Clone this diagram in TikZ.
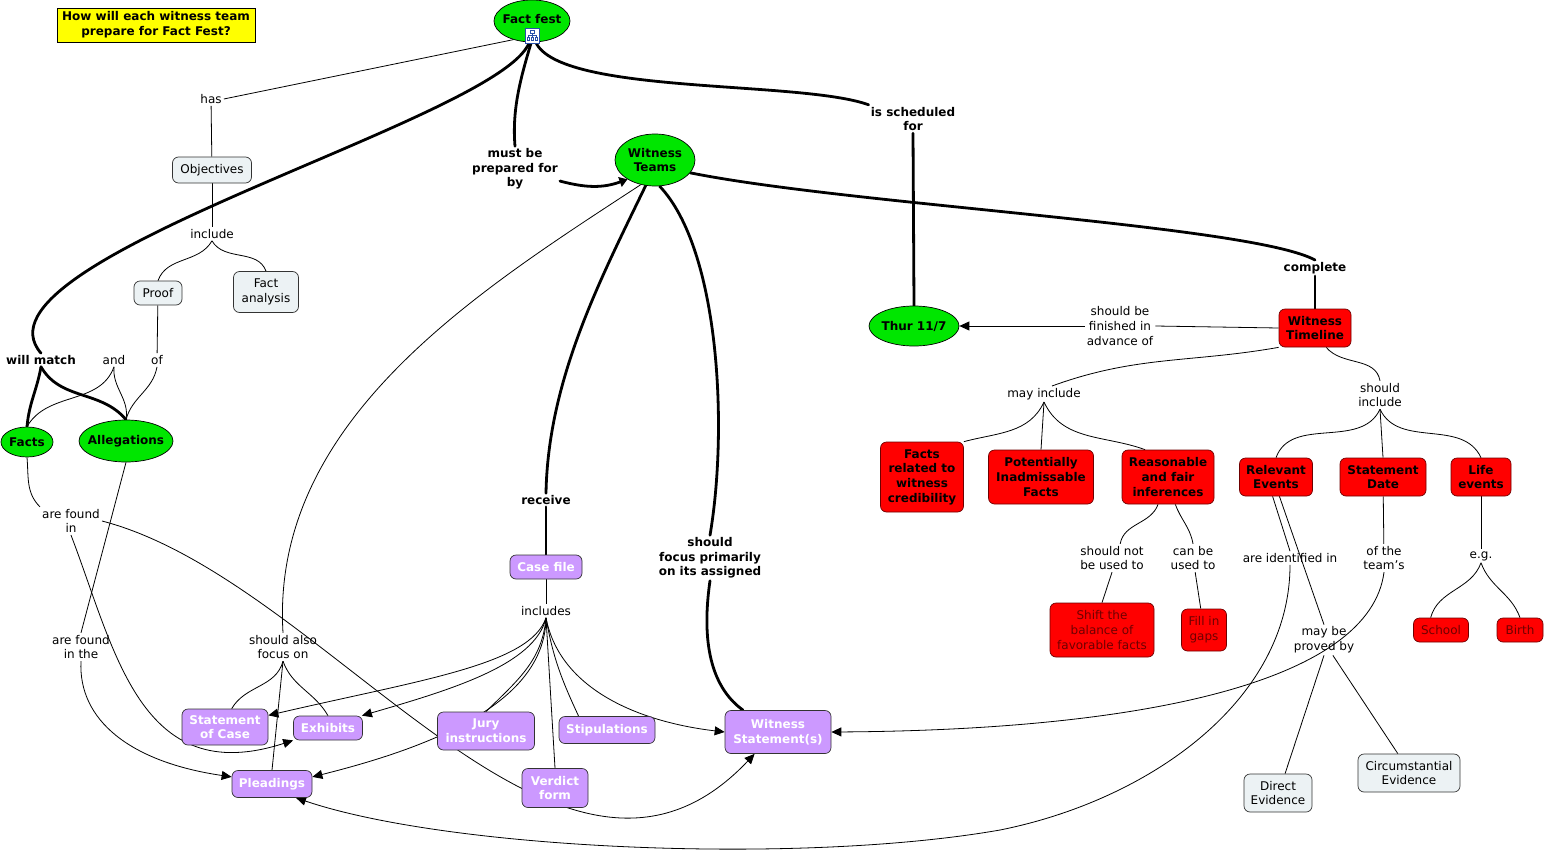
\documentclass[tikz,border=0pt]{standalone}
\usepackage{fontspec}
\setmainfont{DejaVu Sans}
\usepackage{xcolor}
\usepackage{tikz}
\usetikzlibrary{shapes}
\usetikzlibrary{positioning}
\usetikzlibrary{arrows.meta}
\definecolor{mapgreen}{RGB}{0,230,0}
\definecolor{mapred}{RGB}{255,0,0}
\definecolor{mapdarkred}{RGB}{110,0,0}
\definecolor{mappurple}{RGB}{204,153,255}
\definecolor{mapgrey}{RGB}{236,242,244}
\definecolor{mapyellow}{RGB}{255,255,0}
\definecolor{mapblue}{RGB}{40,80,170}
\pgfdeclarelayer{bg}
\pgfsetlayers{bg,main}
\newcommand{\mapfont}{\fontsize{12}{14.7}\selectfont}

\begin{document}
\begin{tikzpicture}[x=1pt,y=-1pt,
  link/.style={line width=0.8pt},
  mainlink/.style={line width=2.8pt,line cap=round},
  arr/.style={-{Triangle[length=10pt,width=9pt]}},
  bigarr/.style={-{Triangle[length=8pt,width=10pt]}}]
\tikzset{
    event/.style     = {ellipse, draw=black, line width=0.7pt, fill=mapgreen, font=\mapfont\bfseries, align=center, inner xsep=-5pt, inner ysep=0pt},
    redbox/.style    = {rectangle, rounded corners=6pt, draw=mapdarkred, line width=0.7pt, fill=mapred, font=\mapfont\bfseries, align=center, inner sep=2pt},
    redplain/.style  = {redbox, font=\mapfont, text=mapdarkred},
    purplebox/.style = {rectangle, rounded corners=6pt, draw=black!80, line width=0.7pt, fill=mappurple, text=white, font=\mapfont\bfseries, align=center, inner sep=2pt},
    greybox/.style   = {rectangle, rounded corners=6pt, draw=black!80, line width=0.7pt, fill=mapgrey, font=\mapfont, align=center, inner sep=2pt},
    questionbox/.style = {rectangle, draw=black, line width=0.8pt, fill=mapyellow, font=\mapfont\bfseries, align=center, inner sep=1pt},
    linkword/.style  = {font=\mapfont, align=center, inner sep=2pt},
    boldword/.style  = {linkword, font=\mapfont\bfseries}
}
\useasboundingbox (0,0) rectangle (1546,851);

\node[questionbox, minimum width=198, minimum height=34] (question) at (156,25) {How will each witness team\\prepare for Fact Fest?};

\node[event, minimum width=76, minimum height=42, label={[font=\mapfont\bfseries,yshift=2pt]center:Fact fest}] (factfest) at (532,21) {};
\node[event, minimum width=80, minimum height=52] (witteams) at (655,160) {Witness\\Teams};
\node[event, minimum width=90, minimum height=40] (thur) at (914,326) {Thur 11/7};
\node[event, minimum width=52, minimum height=30] (facts) at (27,442) {Facts};
\node[event, minimum width=94, minimum height=42] (alleg) at (126,441) {Allegations};

\node[greybox, minimum width=79, minimum height=26] (objectives) at (212,170) {Objectives};
\node[greybox, minimum width=48, minimum height=24] (proof) at (158,293) {Proof};
\node[greybox, minimum width=65, minimum height=41] (factanalysis) at (266,292) {Fact\\analysis};
\node[greybox, minimum width=68, minimum height=38] (direct) at (1278,793) {Direct\\Evidence};
\node[greybox, minimum width=102, minimum height=38] (circ) at (1409,773) {Circumstantial\\Evidence};

\node[redbox, minimum width=72, minimum height=38] (wtimeline) at (1315,328) {Witness\\Timeline};
\node[redbox, minimum width=83, minimum height=70] (factsrel) at (922,477) {Facts\\related to\\witness\\credibility};
\node[redbox, minimum width=105, minimum height=54] (potinad) at (1041,477) {Potentially\\Inadmissable\\Facts};
\node[redbox, minimum width=92, minimum height=54] (reasonable) at (1168,477) {Reasonable\\and fair\\inferences};
\node[redbox, minimum width=73, minimum height=38] (relevant) at (1276,477) {Relevant\\Events};
\node[redbox, minimum width=86, minimum height=38] (stmtdate) at (1383,477) {Statement\\Date};
\node[redbox, minimum width=60, minimum height=38] (lifeevents) at (1481,477) {Life\\events};
\node[redplain, minimum width=104, minimum height=54] (shift) at (1102,630) {Shift the\\balance of\\favorable facts};
\node[redplain, minimum width=45, minimum height=42] (fillin) at (1204,630) {Fill in\\gaps};
\node[redplain, minimum width=55, minimum height=24] (school) at (1441,630) {School};
\node[redplain, minimum width=46, minimum height=24] (birth) at (1520,630) {Birth};

\node[purplebox, minimum width=72, minimum height=24] (casefile) at (546,567) {Case file};
\node[purplebox, minimum width=86, minimum height=36] (stmtcase) at (225,727) {Statement\\of Case};
\node[purplebox, minimum width=69, minimum height=24] (exhibits) at (328,728) {Exhibits};
\node[purplebox, minimum width=97, minimum height=38] (jury) at (486,731) {Jury\\instructions};
\node[purplebox, minimum width=96, minimum height=27] (stip) at (607,730) {Stipulations};
\node[purplebox, minimum width=66, minimum height=39] (verdict) at (555,788) {Verdict\\form};
\node[purplebox, minimum width=106, minimum height=43] (witstmt) at (778,732) {Witness\\Statement(s)};
\node[purplebox, minimum width=80, minimum height=27] (pleadings) at (272,784) {Pleadings};

\node[linkword] (lhas) at (211,99) {has};
\node[linkword] (linclude) at (212,234) {include};
\node[linkword] (land) at (114,360) {and};
\node[linkword] (lof) at (157,360) {of};
\node[boldword] (lmatch) at (41,360) {will match};
\node[boldword] (lprepared) at (515,169) {must be\\prepared for\\by};
\node[boldword] (lsched) at (913,119) {is scheduled\\for};
\node[boldword] (lreceive) at (546,500) {receive};
\node[boldword] (lfocus) at (710,558) {should\\focus primarily\\on its assigned};
\node[boldword] (lcomplete) at (1315,268) {complete};
\node[linkword] (lfinished) at (1120,326) {should be\\finished in\\advance of};
\node[linkword] (lmayinc) at (1044,394) {may include};
\node[linkword] (lshouldinc) at (1380,395) {should\\include};
\node[linkword] (lfoundin) at (71,521) {are found\\in};
\node[linkword] (lfoundinthe) at (81,647) {are found\\in the};
\node[linkword] (lalsofocus) at (283,647) {should also\\focus on};
\node[linkword] (lincludes) at (546,611) {includes};
\node[linkword] (lshouldnot) at (1112,558) {should not\\be used to};
\node[linkword] (lcanbe) at (1193,558) {can be\\used to};
\node[linkword] (lidentified) at (1290,558) {are identified in};
\node[linkword] (lteams) at (1384,558) {of the\\team's};
\node[linkword] (leg) at (1481,556) {e.g.};
\node[linkword] (lproved) at (1324,640) {may be\\proved by};

\draw[mapblue, fill=white, line width=0.6pt] (525,28) rectangle (539,43);
\draw[mapblue, line width=0.6pt] (530,30) rectangle (534,33) (532,33) -- (532,35.5) (528,35.5) -- (536,35.5)
  (528,35.5) -- (528,37.5) (532,35.5) -- (532,37.5) (536,35.5) -- (536,37.5)
  (527,37.5) rectangle (529,40.5) (531,37.5) rectangle (533,40.5) (535,37.5) rectangle (537,40.5);

\begin{pgfonlayer}{bg}
\draw[mainlink] (factfest.263) .. controls (500,120) and (-40,260) .. (lmatch.north);
\draw[mainlink] (lmatch.south) to[out=-100,in=85] (facts.north);
\draw[mainlink] (lmatch.south) to[out=-60,in=130] (alleg.north);
\draw[mainlink] (factfest.268) .. controls (520,80) and (512,110) .. (lprepared.north);
\draw[mainlink,bigarr] (lprepared.-15) to[out=-15,in=200] (witteams.215);
\draw[mainlink] (factfest.280) .. controls (560,95) and (800,80) .. (lsched.north west);
\draw[mainlink] (lsched.south) -- (thur.north);
\draw[mainlink] (witteams.250) .. controls (600,280) and (548,380) .. (lreceive.north);
\draw[mainlink] (lreceive.south) -- (casefile.north);
\draw[mainlink] (witteams.280) .. controls (720,250) and (728,430) .. (lfocus.north);
\draw[mainlink] (lfocus.south) .. controls (700,650) and (715,690) .. (witstmt.148);
\draw[mainlink] (witteams.-20) .. controls (850,205) and (1250,225) .. (lcomplete.north);
\draw[mainlink] (lcomplete.south) -- (wtimeline.north);

\draw[link] (factfest.225) -- (lhas.east);
\draw[link] (lhas) -- (objectives);
\draw[link] (objectives) -- (linclude);
\draw[link] (linclude.south) to[out=-120,in=70] (proof.north);
\draw[link] (linclude.south) to[out=-60,in=110] (factanalysis.north);
\draw[link] (proof) -- (lof);
\draw[link] (lof.south) to[out=-100,in=75] (alleg.north);
\draw[link] (land.south) to[out=-95,in=80] (alleg.north);
\draw[link] (land.south) to[out=-110,in=60] (facts.north);
\draw[link] (facts.south) to[out=-85,in=135] (lfoundin.north west);
\draw[link,arr] (lfoundin.south) .. controls (115,650) and (140,790) .. (exhibits.south west);
\draw[link,arr] (lfoundin.east) .. controls (330,580) and (560,960) .. (witstmt.223);
\draw[link] (alleg.south) -- (lfoundinthe.north);
\draw[link,arr] (lfoundinthe.south) .. controls (78,720) and (130,762) .. (pleadings.170);
\draw[link] (witteams.240) .. controls (480,290) and (270,420) .. (lalsofocus.north);
\draw[link] (lalsofocus.south) to[out=-105,in=60] (stmtcase.70);
\draw[link] (lalsofocus.south) to[out=-70,in=120] (exhibits.north);
\draw[link] (lalsofocus.south) -- (pleadings.north);

\draw[link] (casefile) -- (lincludes);
\draw[link,arr] (lincludes.south) .. controls (530,665) and (420,680) .. (stmtcase.15);
\draw[link,arr] (lincludes.south) .. controls (535,665) and (450,690) .. (exhibits.20);
\draw[link] (lincludes.south) to[out=-95,in=45] (jury.north);
\draw[link,arr] (lincludes.south) .. controls (545,700) and (440,745) .. (pleadings.10);
\draw[link] (lincludes.south) to[out=-80,in=115] (stip.154);
\draw[link] (lincludes.south) -- (verdict.north);
\draw[link,arr] (lincludes.south) .. controls (560,690) and (640,722) .. (witstmt.west);

\draw[link] (wtimeline.west) -- (lfinished.east);
\draw[link,arr] (lfinished.west) -- (thur.east);
\draw[link] (wtimeline.south west) to[out=190,in=20] (lmayinc.45);
\draw[link] (lmayinc.south) to[out=-115,in=15] (factsrel.north east);
\draw[link] (lmayinc.south) -- (potinad.north);
\draw[link] (lmayinc.south) to[out=-65,in=160] (reasonable.130);
\draw[link] (wtimeline.-60) to[out=-50,in=100] (lshouldinc.north);
\draw[link] (lshouldinc.south) to[out=-115,in=70] (relevant.north);
\draw[link] (lshouldinc.south) -- (stmtdate.north);
\draw[link] (lshouldinc.south) to[out=-65,in=115] (lifeevents.north);
\draw[link] (reasonable.-110) to[out=-110,in=80] (lshouldnot.60);
\draw[link] (lshouldnot.south) -- (shift.north);
\draw[link] (reasonable.-75) to[out=-70,in=100] (lcanbe.north);
\draw[link] (lcanbe) -- (fillin);
\draw[link] (relevant.-100) -- (lidentified.north);
\draw[link] (relevant.-80) -- (lproved.north);
\draw[link,arr] (lidentified.south) .. controls (1290,700) and (1150,800) .. (1000,830)
  .. controls (800,865) and (450,850) .. (pleadings.-30);
\draw[link] (lproved.south) -- (direct.70);
\draw[link] (lproved.-60) -- (circ.120);
\draw[link] (stmtdate) -- (lteams);
\draw[link,arr] (lteams.south) .. controls (1370,680) and (1150,730) .. (witstmt.east);
\draw[link] (lifeevents) -- (leg);
\draw[link] (leg.south) to[out=-110,in=75] (school.130);
\draw[link] (leg.south) to[out=-70,in=110] (birth.north);
\end{pgfonlayer}
\end{tikzpicture}
\end{document}
